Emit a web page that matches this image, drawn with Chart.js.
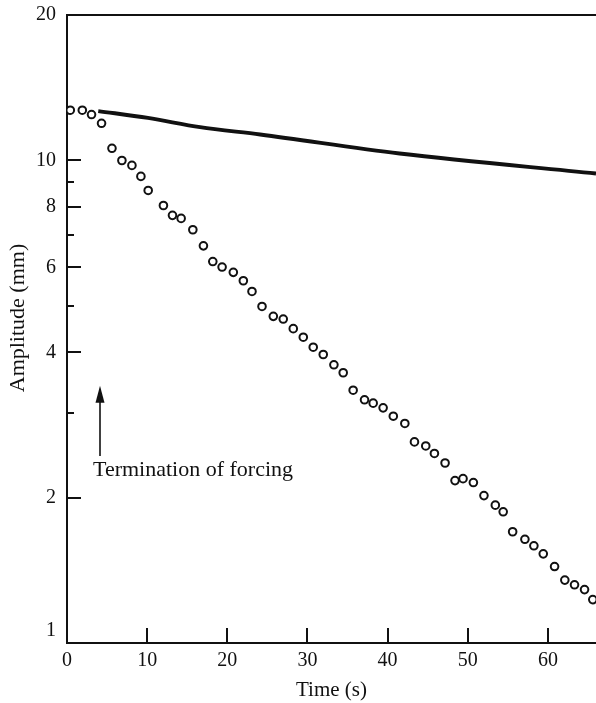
<!DOCTYPE html>
<html><head><meta charset="utf-8">
<script src="https://cdn.jsdelivr.net/npm/chart.js@4.4.0/dist/chart.umd.min.js"></script>
<style>html,body{margin:0;padding:0;background:#fff;overflow:hidden}#wrap{width:596px;height:703px;position:relative}canvas{display:block}</style>
</head><body><div id="wrap"><canvas id="c"></canvas></div>
<script>
// Observed amplitude after the forcing stops (circles)
const obsTime = [0.41,1.91,3.06,4.31,5.61,6.85,8.10,9.22,10.13,12.03,13.16,14.24,15.70,17.02,18.19,19.35,20.75,22.00,23.08,24.33,25.74,26.98,28.23,29.48,30.72,31.97,33.30,34.46,35.70,37.12,38.20,39.44,40.71,42.15,43.35,44.76,45.84,47.17,48.41,49.41,50.70,52.02,53.44,54.42,55.60,57.13,58.25,59.42,60.83,62.11,63.32,64.57,65.60];
const obsAmp  = [12.70,12.70,12.44,11.93,10.59,9.99,9.76,9.26,8.66,8.06,7.69,7.58,7.18,6.65,6.17,6.01,5.86,5.63,5.35,4.98,4.75,4.69,4.48,4.30,4.10,3.96,3.77,3.63,3.34,3.19,3.14,3.07,2.95,2.85,2.61,2.56,2.47,2.36,2.17,2.19,2.15,2.02,1.93,1.87,1.70,1.64,1.59,1.53,1.44,1.35,1.32,1.29,1.23];
// Solid curve
const curveTime = [3.9,10.1,16.6,24.1,41.5,66.0];
const curveAmp  = [12.65,12.24,11.71,11.31,10.33,9.39];
// Axis ticks
const xTicks = [0,10,20,30,40,50,60];
const yMajorTicks = [1,2,4,6,8,10,20];
const yMinorTicks = [3,5,7,9];
const xTitle = 'Time (s)';
const yTitle = 'Amplitude (mm)';
const noteText = 'Termination of forcing';
const noteTime = 4.06, arrowFrom = 2.44, arrowTo = 3.41, noteAmp = 2.28;

const FONT = '"Liberation Serif","Times New Roman",serif';
const INK = '#111';

const innerTicks = {
  id: 'innerTicks',
  afterDatasetsDraw(chart) {
    const {ctx, chartArea: a, scales: {x, y}} = chart;
    ctx.save();
    ctx.strokeStyle = INK; ctx.lineWidth = 2;
    ctx.beginPath();
    yMajorTicks.forEach(v => {
      if (v <= 1 || v >= 20) return;
      const p = Math.round(y.getPixelForValue(v));
      ctx.moveTo(a.left, p); ctx.lineTo(a.left + 14, p);
    });
    yMinorTicks.forEach(v => {
      const p = Math.round(y.getPixelForValue(v));
      ctx.moveTo(a.left, p); ctx.lineTo(a.left + 7, p);
    });
    xTicks.forEach(v => {
      if (v === 0) return;
      const p = Math.round(x.getPixelForValue(v));
      ctx.moveTo(p, a.bottom); ctx.lineTo(p, a.bottom - 15);
    });
    ctx.stroke();
    // arrow
    const ax = Math.round(x.getPixelForValue(noteTime));
    const y0 = y.getPixelForValue(arrowFrom), y1 = y.getPixelForValue(arrowTo);
    ctx.lineWidth = 1.6;
    ctx.beginPath(); ctx.moveTo(ax, y0); ctx.lineTo(ax, y1 + 12); ctx.stroke();
    ctx.fillStyle = INK;
    ctx.beginPath(); ctx.moveTo(ax, y1); ctx.lineTo(ax - 4.5, y1 + 17); ctx.lineTo(ax + 4.5, y1 + 17); ctx.closePath(); ctx.fill();
    ctx.font = '22px ' + FONT; ctx.textBaseline = 'middle'; ctx.textAlign = 'left';
    ctx.fillText(noteText, ax - 7, y.getPixelForValue(noteAmp));
    ctx.restore();
  }
};

function noSidePad(s) { s.paddingLeft = 0; s.paddingRight = 0; }
function noVertPad(s) { s.paddingTop = 0; s.paddingBottom = 0; }

new Chart(document.getElementById('c'), {
  type: 'scatter',
  data: { datasets: [
    { label: 'Observed', data: obsTime.map((t, i) => ({x: t, y: obsAmp[i]})),
      pointRadius: 3.8, pointBorderWidth: 2, pointBackgroundColor: '#fff', pointBorderColor: INK, showLine: false },
    { label: 'Curve', data: curveTime.map((t, i) => ({x: t, y: curveAmp[i]})),
      showLine: true, borderColor: INK, borderWidth: 3.8, pointRadius: 0, cubicInterpolationMode: 'monotone', fill: false }
  ]},
  options: {
    responsive: true, maintainAspectRatio: false, animation: false,
    layout: { padding: 0, autoPadding: false },
    plugins: { legend: {display: false}, tooltip: {enabled: false} },
    scales: {
      x: { type: 'linear', position: 'bottom', min: 0, max: 66,
        afterBuildTicks(s) { s.ticks = xTicks.map(v => ({value: v})); },
        grid: { display: false, drawTicks: false },
        border: { color: INK, width: 2 },
        ticks: { color: INK, font: {family: FONT, size: 20}, padding: 6, maxRotation: 0, autoSkip: false },
        title: { display: true, text: xTitle, color: INK, font: {family: FONT, size: 21}, padding: {top: 0, bottom: 0} },
        afterFit(s) { s.height = 60; noSidePad(s); } },
      xTop: { type: 'linear', position: 'top', min: 0, max: 66,
        grid: { display: false, drawTicks: false }, ticks: { display: false },
        border: { color: INK, width: 2 },
        afterFit(s) { s.height = 15; noSidePad(s); } },
      y: { type: 'logarithmic', position: 'left', min: 1, max: 20,
        afterBuildTicks(s) { s.ticks = yMajorTicks.map(v => ({value: v})); },
        grid: { display: false, drawTicks: false },
        border: { color: INK, width: 2 },
        ticks: { color: INK, font: {family: FONT, size: 20}, padding: 11, autoSkip: false,
          callback: v => v === 1 ? ['1', ''] : String(v) },
        title: { display: true, text: '\u00a0\u00a0\u00a0\u00a0' + yTitle, color: INK, font: {family: FONT, size: 22}, padding: {top: 5, bottom: 0} },
        afterFit(s) { s.width = 67; noVertPad(s); } }
    }
  },
  plugins: [innerTicks]
});
</script>
</body></html>
